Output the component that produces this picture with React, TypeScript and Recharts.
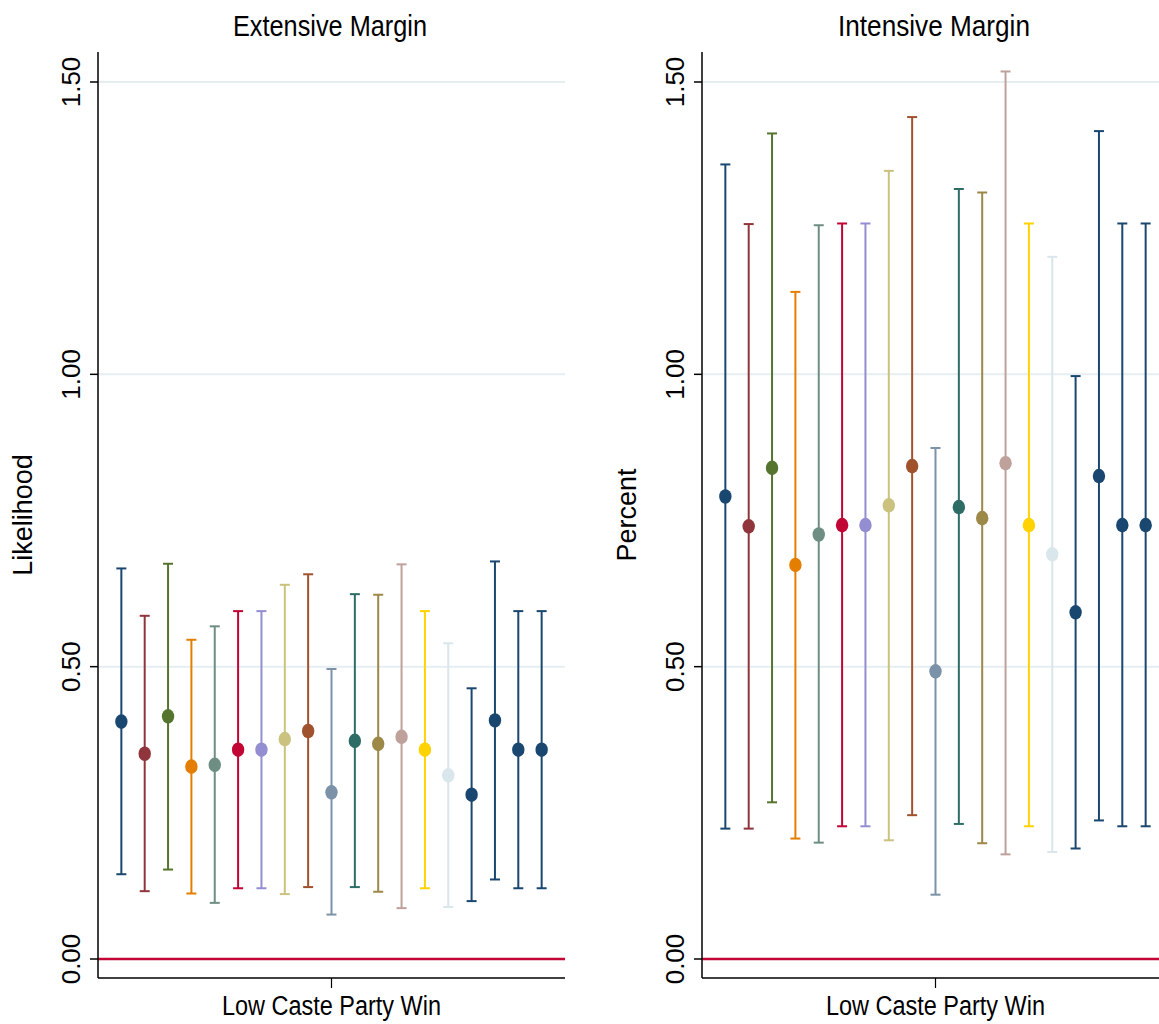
import React from 'react';
import { ScatterChart, Scatter, XAxis, YAxis, ReferenceLine, ErrorBar } from 'recharts';

// ---- Data ----
const panelTitles = ['Extensive Margin', 'Intensive Margin'];
const yAxisTitles = ['Likelihood', 'Percent'];
const xTickLabels = ['Low Caste Party Win'];
const yTicks = [0, 0.5, 1, 1.5];
const gridValues = [0.5, 1, 1.5];

const seriesColors = [
  '#1a476f', '#90353b', '#55752f', '#e37e00', '#6e8e84', '#c10534', '#938dd2', '#cac27e',
  '#a0522d', '#7b92a8', '#2d6d66', '#9c8847', '#bfa19c', '#ffd200', '#d9e6eb', '#1a476f',
  '#1a476f', '#1a476f', '#1a476f',
];

const extEst = [0.406, 0.351, 0.415, 0.329, 0.332, 0.358, 0.358, 0.376, 0.390, 0.285, 0.373, 0.368, 0.380, 0.358, 0.314, 0.281, 0.408, 0.358, 0.358];
const extLo = [0.145, 0.116, 0.153, 0.112, 0.096, 0.121, 0.121, 0.111, 0.123, 0.076, 0.123, 0.115, 0.087, 0.121, 0.089, 0.099, 0.136, 0.121, 0.121];
const extHi = [0.668, 0.587, 0.676, 0.546, 0.569, 0.595, 0.595, 0.640, 0.658, 0.496, 0.624, 0.623, 0.675, 0.595, 0.540, 0.463, 0.680, 0.595, 0.595];

const intEst = [0.791, 0.740, 0.840, 0.674, 0.726, 0.742, 0.742, 0.776, 0.843, 0.492, 0.773, 0.754, 0.848, 0.742, 0.692, 0.593, 0.826, 0.742, 0.742];
const intLo = [0.223, 0.223, 0.268, 0.206, 0.199, 0.227, 0.227, 0.203, 0.246, 0.110, 0.231, 0.198, 0.179, 0.227, 0.183, 0.189, 0.237, 0.227, 0.227];
const intHi = [1.359, 1.257, 1.412, 1.141, 1.255, 1.258, 1.258, 1.348, 1.440, 0.874, 1.317, 1.311, 1.518, 1.258, 1.201, 0.997, 1.416, 1.258, 1.258];

const FONT = '"Liberation Sans", Arial, Helvetica, sans-serif';

const EllipseDot = (props: any) => {
  const { cx, cy, fill } = props;
  if (cx == null || cy == null) return null;
  return <ellipse cx={cx} cy={cy} rx={6.2} ry={7.3} fill={fill} />;
};

const YTick = (props: any) => {
  const { x, y, payload } = props;
  const bx = x - 8;
  return (
    <text
      x={bx}
      y={y}
      transform={`rotate(-90, ${bx}, ${y})`}
      textAnchor="middle"
      fontSize={26}
      fontFamily={FONT}
      fill="#000"
    >
      {Number(payload.value).toFixed(2)}
    </text>
  );
};

const XTick = (props: any) => {
  const { x, y } = props;
  return (
    <text
      x={x}
      y={y + 25}
      textAnchor="middle"
      fontSize={27}
      fontFamily={FONT}
      fill="#000"
      textLength={219}
      lengthAdjust="spacingAndGlyphs"
    >
      {xTickLabels[0]}
    </text>
  );
};

function Panel({ est, lo, hi, yTitle }: { est: number[]; lo: number[]; hi: number[]; yTitle: string }) {
  return (
    <ScatterChart width={580} height={1024} margin={{ top: 52, right: 15, bottom: 0, left: 38 }}>
      <XAxis
        type="number"
        dataKey="x"
        domain={[0, 20]}
        ticks={[10]}
        allowDataOverflow
        height={46}
        tickSize={10}
        axisLine={{ stroke: '#000', strokeWidth: 1.5 }}
        tickLine={{ stroke: '#000', strokeWidth: 1.2 }}
        tick={<XTick />}
      />
      <YAxis
        type="number"
        dataKey="y"
        domain={[-0.0325, 1.5513]}
        ticks={yTicks}
        allowDataOverflow
        width={60}
        tickSize={8}
        axisLine={{ stroke: '#000', strokeWidth: 1.5 }}
        tickLine={{ stroke: '#000', strokeWidth: 1.5 }}
        tick={<YTick />}
        label={{
          content: (p: any) => {
            const vb = p.viewBox || { x: 38, y: 52, height: 926 };
            const cx = vb.x - 6;
            const cy = vb.y + vb.height / 2;
            return (
              <text
                x={cx}
                y={cy}
                transform={`rotate(-90, ${cx}, ${cy})`}
                textAnchor="middle"
                fontSize={27}
                fontFamily={FONT}
                fill="#000"
              >
                {yTitle}
              </text>
            );
          },
        }}
      />
      {gridValues.map((g) => (
        <ReferenceLine key={g} y={g} stroke="#e6eef1" strokeWidth={2} />
      ))}
      <ReferenceLine y={0} stroke="#c10534" strokeWidth={2.5} />
      {est.map((v, i) => (
        <Scatter
          key={i}
          data={[{ x: i + 1, y: v, err: [v - lo[i], hi[i] - v] }]}
          fill={seriesColors[i]}
          shape={<EllipseDot />}
          isAnimationActive={false}
        >
          <ErrorBar
            dataKey="err"
            direction="y"
            width={5}
            strokeWidth={2}
            stroke={seriesColors[i]}
            isAnimationActive={false}
          />
        </Scatter>
      ))}
    </ScatterChart>
  );
}

export default function App() {
  return (
    <div style={{ position: 'absolute', left: 0, top: 0, width: 1159, height: 1024, overflow: 'hidden', background: '#fff' }}>
      <div style={{ position: 'absolute', left: 0, top: 0 }}>
        <Panel est={extEst} lo={extLo} hi={extHi} yTitle={yAxisTitles[0]} />
      </div>
      <div style={{ position: 'absolute', left: 604, top: 0 }}>
        <Panel est={intEst} lo={intLo} hi={intHi} yTitle={yAxisTitles[1]} />
      </div>
      <svg width={1159} height={60} style={{ position: 'absolute', left: 0, top: 0, pointerEvents: 'none' }}>
        <text x={330} y={36} textAnchor="middle" fontSize={29} fontFamily={FONT} fill="#000" textLength={194} lengthAdjust="spacingAndGlyphs">
          {panelTitles[0]}
        </text>
        <text x={934} y={36} textAnchor="middle" fontSize={29} fontFamily={FONT} fill="#000" textLength={192} lengthAdjust="spacingAndGlyphs">
          {panelTitles[1]}
        </text>
      </svg>
    </div>
  );
}
